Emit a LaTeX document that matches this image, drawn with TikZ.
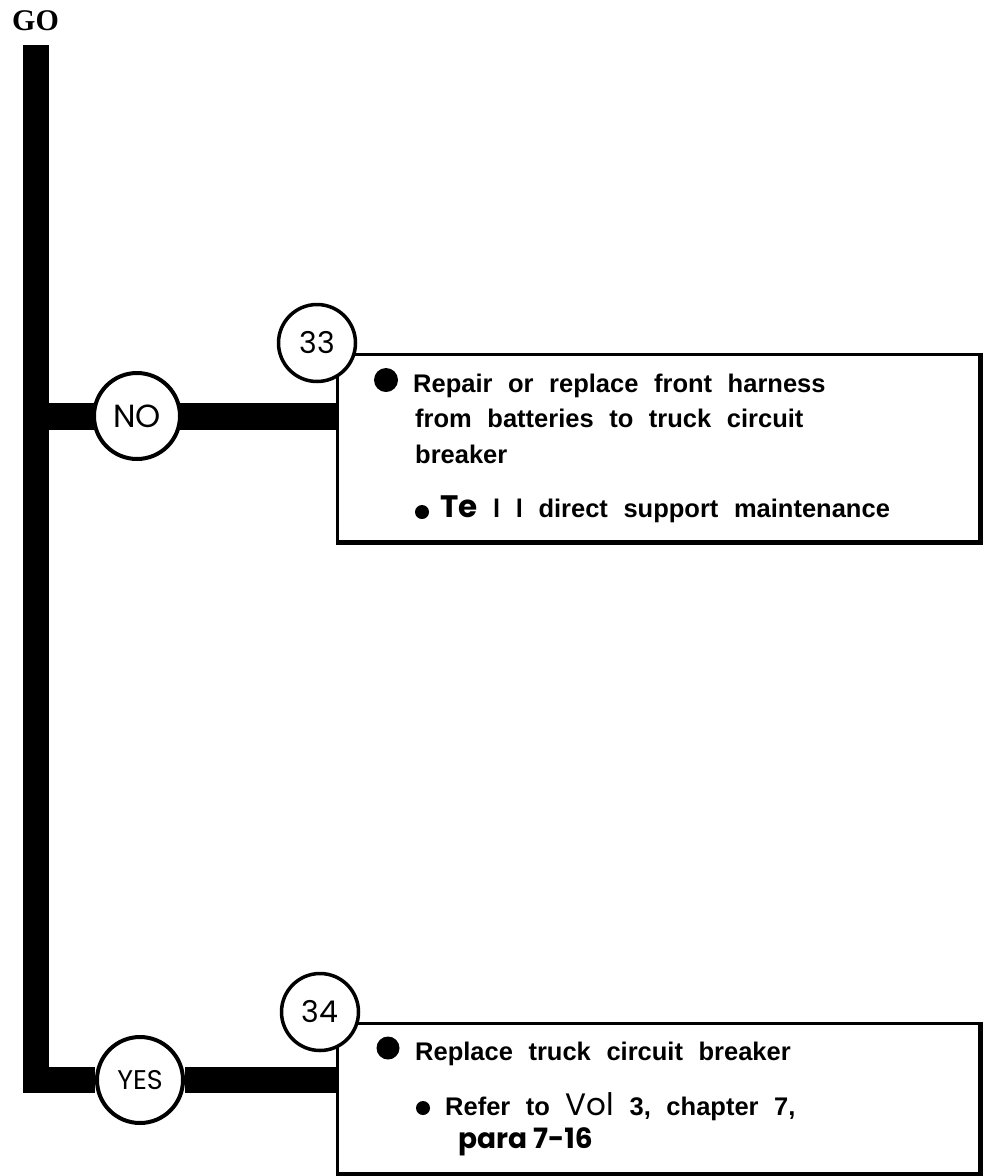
\documentclass[tikz,border=0pt]{standalone}
\usepackage{fontspec}
\setmainfont{Liberation Sans}[WordSpace=2.2]
\newfontfamily\geofont{Poppins}
\newfontfamily\gofont{Liberation Serif}
\usetikzlibrary{backgrounds, positioning}

\begin{document}
\begin{tikzpicture}[
  x=1pt, y=-1pt,
  bar/.style={line width=26pt, line join=miter},
  box/.style={rectangle, draw, line width=3pt, minimum width=642pt,
              minimum height=#1, inner sep=0pt},
  edge/.style={line width=5pt, line join=miter},
  tag/.style={circle, draw, fill=white, line width=4pt, minimum size=86pt,
              inner sep=0pt, font=\geofont\fontsize{32}{30}\selectfont},
  num/.style={tag, line width=3.5pt, minimum size=77pt,
              font=\geofont\fontsize{30}{30}\selectfont},
  dot/.style={circle, fill, inner sep=0pt, minimum size=#1},
  line/.style={anchor=base west, inner sep=0pt,
               font=\bfseries\fontsize{25.5}{30}\selectfont}
]
\useasboundingbox (0,0) rectangle (989,1176);

\node[anchor=base west, inner sep=0pt,
      font=\gofont\bfseries\fontsize{30}{30}\selectfont] (go) at (12,30) {GO};
\coordinate (top) at (35.5,45);

% box 33
\node[box=187pt] (box1) at (658,447.5) {};
\draw[edge] (box1.north east) -- (box1.south east) -- (box1.south west);
\node[dot=24pt] (b1) at (386,380) {};
\node[line] (r1) at (413,392) {Repair or replace front harness};
\node[line] (r2) at (415,427) {from batteries to truck circuit};
\node[line] (r3) at (415,463) {breaker};
\node[dot=14pt] (b2) at (422,512) {};
\node[line] (r4) at (440,517)
  {{\geofont\fontsize{31}{30}\selectfont Te} l l direct support maintenance};

% box 34
\node[box=150pt] (box2) at (658,1098) {};
\draw[edge] (box2.north east) -- (box2.south east) -- (box2.south west);
\node[dot=23pt] (b3) at (388,1048) {};
\node[line] (s1) at (415,1060) {Replace truck circuit breaker};
\node[dot=14pt] (b4) at (423,1108) {};
\node[line] (s2) at (445,1115)
  {Refer to {\geofont\mdseries\fontsize{31}{30}\selectfont Vol} 3, chapter 7,};
\node[line, font=\geofont\bfseries\fontsize{28}{30}\selectfont] (s3) at (458,1148) {para 7-16};

\node[tag] (no) at (137,416) {NO};
\node[tag, font=\geofont\fontsize{27}{30}\selectfont] (yes) at (140,1080) {YES};
\node[num] (n33) at (317,343) {33};
\node[num] (n34) at (320,1012) {34};

\begin{scope}[on background layer]
\draw[bar] (top) |- (yes) -- (yes -| box2.west);
\draw[bar, line width=27pt] (no -| top) -- (no -| box1.west);
\end{scope}
\end{tikzpicture}
\end{document}
